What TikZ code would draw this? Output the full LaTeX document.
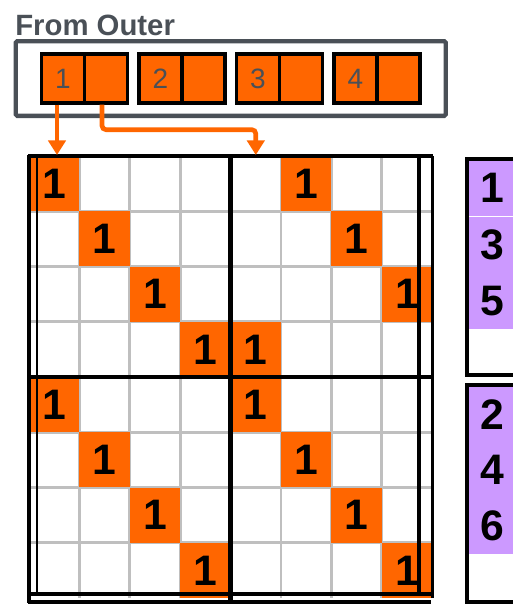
\documentclass[tikz,border=0pt]{standalone}
\usepackage{fontspec}
\setmainfont{Liberation Sans}
\usetikzlibrary{arrows.meta,fit,positioning}
\definecolor{outerorange}{HTML}{FF6600}
\definecolor{slate}{HTML}{4A5057}
\definecolor{lilac}{HTML}{CC99FF}
\definecolor{gridgray}{HTML}{BFBFBF}

\begin{document}
\begin{tikzpicture}[x=0.75pt,y=-0.75pt,
  pair/.style={draw=black,line width=2.5pt,fill=outerorange,minimum width=32.25pt,minimum height=36.75pt,inner sep=0pt,text=slate,font=\fontsize{21}{21}\selectfont},
  one/.style={fill=outerorange,minimum width=37.8pt,minimum height=41.4pt,inner sep=0pt,font=\fontsize{32}{32}\selectfont\bfseries},
  idx/.style={fill=lilac,minimum width=37.5pt,minimum height=42pt,inner sep=0pt,font=\fontsize{32}{32}\selectfont\bfseries},
  gline/.style={gridgray,line width=2.2pt},
  bline/.style={black,line width=3.1pt},
  feed/.style={outerorange,line width=3.5pt,-{Triangle[width=13pt,length=11pt]}}]
  \useasboundingbox (0,0) rectangle (513,608);
  % ---------- outer vector
  \node[font=\fontsize{22}{22}\selectfont\bfseries,text=slate,anchor=base west,inner sep=0pt] (title) at (15,35) {From Outer};
  \foreach \i in {1,...,4} {
    \node[pair] (p\i-a) at ({63+97.5*(\i-1)},78.5) {\i};
    \node[pair] (p\i-b) at ({106+97.5*(\i-1)},78.5) {};
  }
  \node[draw=slate,line width=3.2pt,rounded corners=1pt,inner xsep=18pt,inner ysep=8.4pt,fit=(p1-a)(p4-b)] (outer) {};
  % ---------- matrix
  \foreach \k in {1,...,7} {
    \draw[gline] ({29+50.4*\k},156) -- ({29+50.4*\k},598);
    \draw[gline] (29,{156+55.25*\k}) -- (432,{156+55.25*\k});
  }
  \foreach \r/\c [count=\i] in {1/1,2/2,3/3,4/4,1/6,2/7,3/8,4/5,5/1,6/2,7/3,8/4,5/5,6/6,7/7,8/8}
    \node[one] (m\i) at ({29+50.4*(\c-0.5)},{156+55.25*(\r-0.5)}) {1};
  % borders
  \draw[bline] (29,155) -- (29,603);
  \draw[black,line width=1.5pt] (36.5,156) -- (36.5,595);
  \draw[bline] (28,156) -- (433,156);
  \draw[bline,line width=3.6pt] (29,377) -- (433,377);
  \draw[bline,line width=4pt] (230.6,156) -- (230.6,603);
  \draw[bline] (419,156) -- (419,594);
  \draw[black,line width=2pt] (432.5,156) -- (432.5,598);
  \draw[bline] (28,594) -- (433,594);
  \draw[bline] (28,602) -- (431,602);
  % ---------- arrows
  \coordinate (col1) at (57,155);
  \coordinate (col5) at (255.8,155);
  \draw[feed] (p1-a.south -| col1) -- (col1);
  \draw[feed,rounded corners=3pt] ([xshift=-3pt]p1-b.south) -- ++(0,25) -| (col5);
  % ---------- index column
  \foreach \v/\y in {1/188,3/244.5,5/301,2/415,4/470,6/526}
    \node[idx] (v\v) at (492,\y) {\v};
  \draw[bline,line width=2.8pt] (467,159) rectangle (520,375);
  \draw[bline,line width=2.8pt] (467,385) rectangle (520,602);
\end{tikzpicture}
\end{document}
